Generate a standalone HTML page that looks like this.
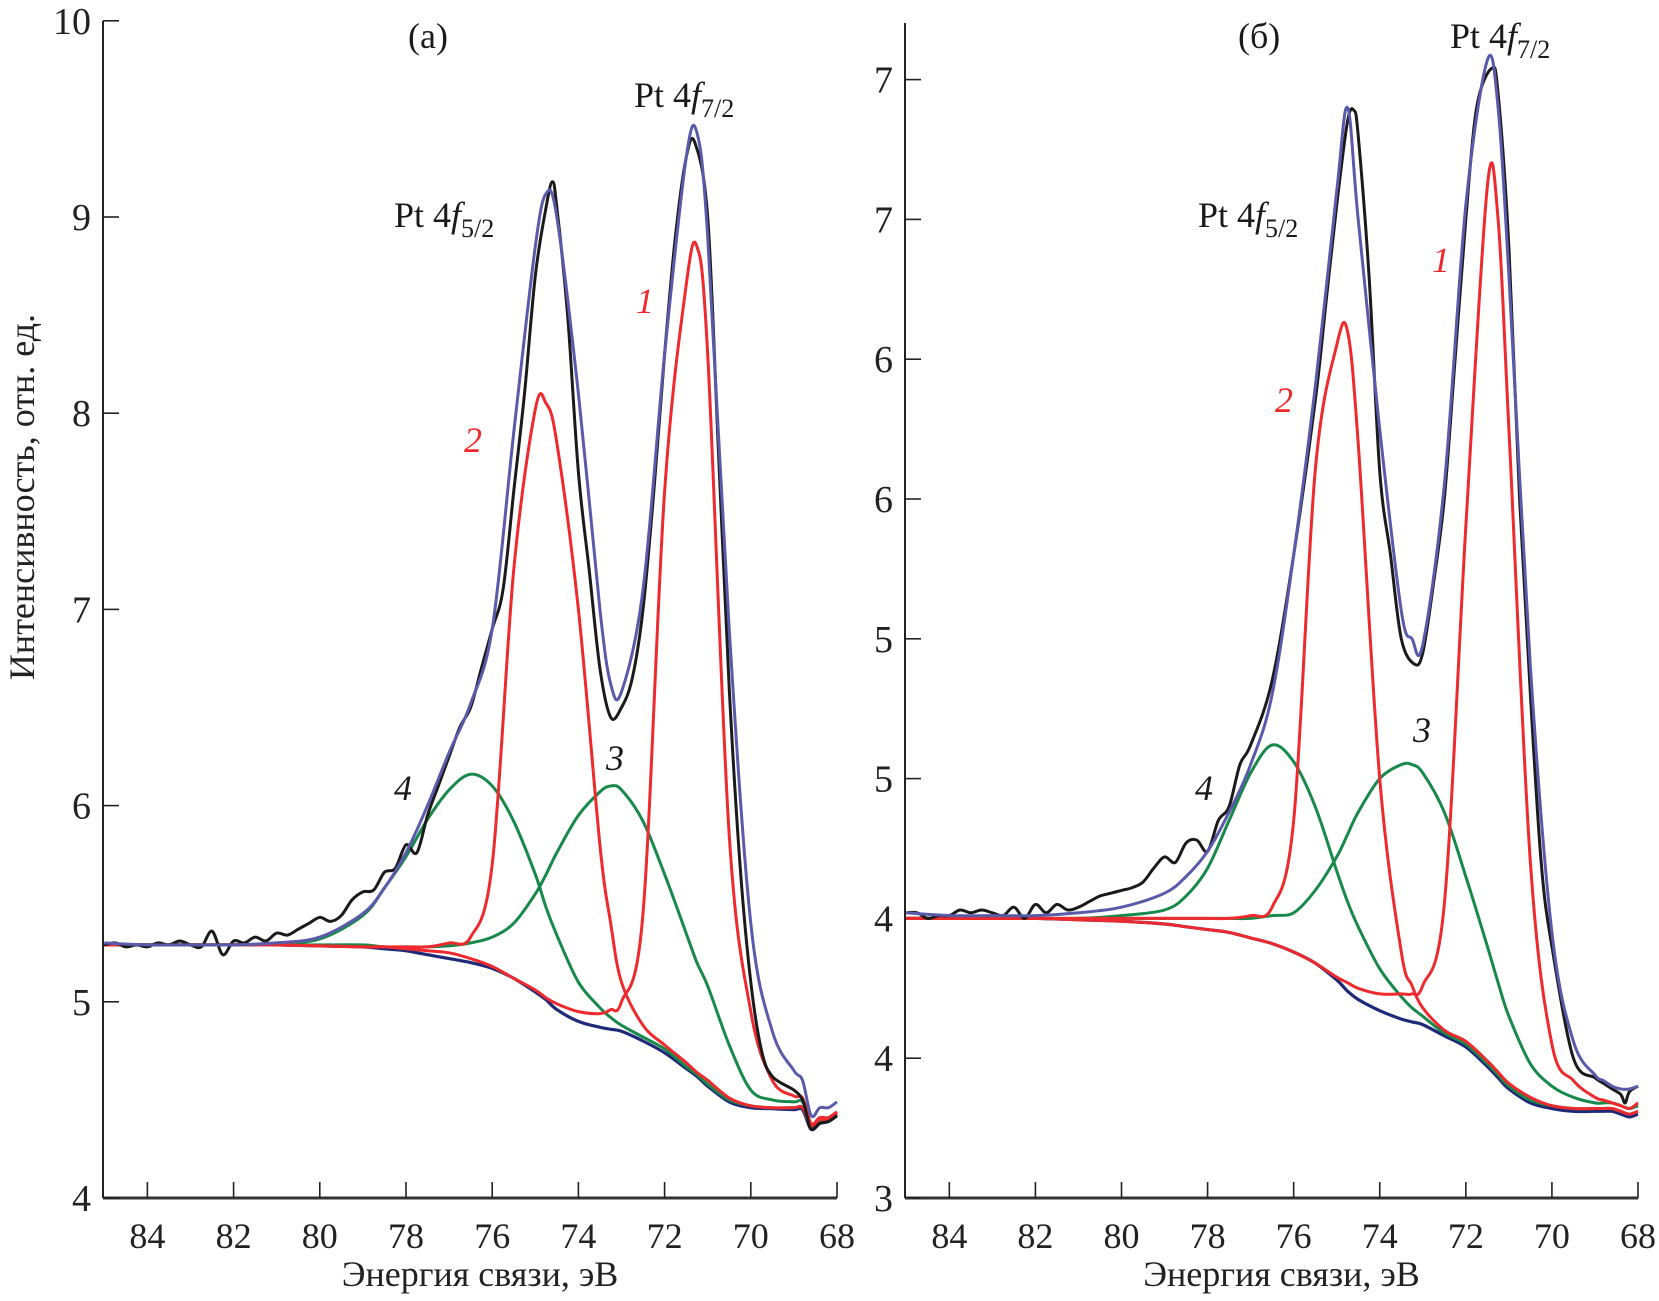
<!DOCTYPE html>
<html><head><meta charset="utf-8"><style>
html,body{margin:0;padding:0;background:#fff;}
svg{display:block;}
text{font-family:"Liberation Serif",serif;}
</style></head><body>
<svg id="chart" width="1659" height="1301" viewBox="0 0 1659 1301" xmlns="http://www.w3.org/2000/svg">
<g id="layer"></g>
</svg>
<script>
const grid = [85,84,83,82,81,80,79,78.5,78,77.5,77,76.5,76,75.5,75,74.75,74.5,74,73.5,73.25,73,72.5,72,71.5,71.25,71,70.5,70,69.5,69,68.8,68.6,68.4,68.2,68];
const xTicks = [84,82,80,78,76,74,72,70,68];
const yTicksA = [4,5,6,7,8,9,10];
const yTickLabelsA = ["4","5","6","7","8","9","10"];
const yTicksB = [3,3.5,4,4.5,5,5.5,6,6.5,7];
const yTickLabelsB = ["3","4","4","5","5","6","6","7","7"];

const navyA = [5.29,5.29,5.29,5.29,5.29,5.285,5.28,5.27,5.26,5.24,5.22,5.20,5.17,5.12,5.05,5.01,4.96,4.90,4.87,4.86,4.85,4.80,4.74,4.66,4.62,4.57,4.49,4.46,4.455,4.45,4.45,4.35,4.38,4.39,4.42];
const red2A = [5.29,5.29,5.29,5.29,5.29,5.285,5.28,5.28,5.28,5.28,5.30,5.33,5.70,7.20,8.02,8.05,7.85,7.0,5.8,5.4,5.1,4.88,4.78,4.69,4.64,4.60,4.51,4.47,4.46,4.46,4.46,4.37,4.40,4.40,4.43];
const red1A = [5.29,5.29,5.29,5.29,5.29,5.285,5.28,5.28,5.27,5.26,5.25,5.22,5.18,5.12,5.06,5.02,4.99,4.95,4.94,4.96,5.0,5.45,7.6,8.65,8.85,8.3,5.85,4.95,4.6,4.52,4.51,4.38,4.41,4.41,4.44];
const green4A = [5.29,5.29,5.29,5.29,5.30,5.32,5.44,5.58,5.74,5.93,6.08,6.16,6.10,5.92,5.65,5.48,5.34,5.10,4.97,4.92,4.88,4.82,4.76,4.67,4.63,4.58,4.50,4.47,4.46,4.46,4.46,4.36,4.39,4.39,4.42];
const green3A = [5.29,5.29,5.29,5.29,5.29,5.29,5.29,5.28,5.28,5.28,5.285,5.30,5.33,5.40,5.55,5.65,5.76,5.95,6.07,6.10,6.08,5.92,5.65,5.35,5.20,5.08,4.78,4.55,4.50,4.49,4.49,4.37,4.40,4.40,4.43];
const blueA = [5.30,5.29,5.29,5.29,5.30,5.33,5.45,5.58,5.76,6.0,6.27,6.52,6.9,7.9,8.85,9.12,9.0,8.1,7.0,6.62,6.58,7.1,8.3,9.3,9.43,8.9,6.9,5.4,4.85,4.65,4.6,4.42,4.46,4.46,4.49];
const blackXA = [85,84.75,84.5,84.25,84,83.75,83.5,83.25,83,82.75,82.5,82.25,82,81.75,81.5,81.25,81,80.75,80.5,80.25,80,79.75,79.5,79.25,79,78.75,78.5,78.25,78,77.75,77.5,77.25,77,76.75,76.5,76.25,76,75.75,75.5,75.25,75,74.75,74.6,74.5,74.25,74,73.75,73.5,73.25,73,72.75,72.5,72.25,72,71.75,71.5,71.3,71,70.75,70.5,70.25,70,69.75,69.5,69,68.8,68.7,68.6,68.4,68.2,68];
const blackA = [5.29,5.30,5.28,5.29,5.28,5.30,5.29,5.31,5.29,5.28,5.36,5.24,5.31,5.30,5.33,5.31,5.35,5.34,5.37,5.40,5.43,5.41,5.44,5.52,5.56,5.57,5.66,5.68,5.80,5.76,5.95,6.10,6.25,6.40,6.50,6.7,6.9,7.1,7.6,8.1,8.7,9.05,9.18,9.05,8.5,7.7,7.2,6.7,6.45,6.5,6.65,7.0,7.6,8.3,8.9,9.3,9.38,9.0,7.8,6.6,5.7,5.1,4.75,4.62,4.55,4.5,4.42,4.35,4.38,4.39,4.42];

const navyB = [4.0,4.0,4.0,4.0,3.995,3.99,3.98,3.97,3.96,3.95,3.93,3.91,3.88,3.84,3.78,3.74,3.71,3.67,3.64,3.63,3.62,3.58,3.54,3.47,3.43,3.39,3.34,3.32,3.31,3.31,3.31,3.31,3.30,3.29,3.30];
const red2B = [4.0,4.0,4.0,4.0,4.0,4.0,4.0,4.0,4.0,4.0,4.01,4.04,4.35,5.6,6.05,6.1,5.7,4.5,3.88,3.76,3.68,3.60,3.56,3.49,3.45,3.41,3.36,3.33,3.32,3.32,3.32,3.32,3.31,3.30,3.31];
const red1B = [4.0,4.0,4.0,4.0,3.995,3.99,3.98,3.97,3.96,3.95,3.93,3.91,3.88,3.84,3.79,3.77,3.75,3.73,3.73,3.73,3.76,4.05,5.4,6.62,6.5,5.75,4.2,3.55,3.42,3.36,3.35,3.34,3.33,3.32,3.34];
const green4B = [4.0,4.0,4.0,4.0,4.0,4.01,4.03,4.08,4.18,4.35,4.52,4.62,4.56,4.40,4.17,4.06,3.97,3.82,3.72,3.68,3.65,3.59,3.55,3.48,3.44,3.40,3.35,3.33,3.32,3.32,3.32,3.32,3.31,3.30,3.31];
const green3B = [4.0,4.0,4.0,4.0,4.0,4.0,4.0,4.0,4.0,4.0,4.0,4.01,4.02,4.1,4.22,4.30,4.38,4.50,4.55,4.55,4.52,4.38,4.15,3.9,3.77,3.65,3.48,3.40,3.36,3.34,3.34,3.34,3.33,3.32,3.33];
const blueB = [4.02,4.01,4.01,4.01,4.02,4.04,4.09,4.15,4.24,4.38,4.55,4.8,5.3,5.9,6.6,6.9,6.5,5.75,5.1,5.0,4.98,5.55,6.55,7.07,6.9,6.3,4.9,3.95,3.56,3.44,3.42,3.40,3.39,3.39,3.40];
const blackXB = [85,84.75,84.5,84.25,84,83.75,83.5,83.25,83,82.75,82.5,82.25,82,81.75,81.5,81.25,81,80.75,80.5,80.25,80,79.75,79.5,79.25,79,78.75,78.5,78.25,78,77.75,77.5,77.25,77,76.5,76,75.5,75.25,75,74.75,74.6,74.5,74.25,74,73.75,73.5,73.2,73,72.75,72.5,72.25,72,71.75,71.4,71.25,71,70.75,70.5,70.25,70,69.5,69,68.8,68.6,68.4,68.3,68.2,68];
const blackB = [4.02,4.02,4.0,4.01,4.01,4.03,4.02,4.03,4.02,4.01,4.04,4.0,4.05,4.02,4.05,4.03,4.04,4.06,4.08,4.09,4.1,4.11,4.13,4.18,4.22,4.2,4.27,4.28,4.24,4.35,4.4,4.55,4.62,4.85,5.3,5.85,6.2,6.55,6.85,6.89,6.8,6.3,5.6,5.3,5.0,4.91,4.95,5.2,5.5,6.0,6.5,6.9,7.04,6.95,6.4,5.5,4.8,4.2,3.9,3.5,3.43,3.41,3.39,3.37,3.34,3.38,3.40];

const svgNS = "http://www.w3.org/2000/svg";
const layer = document.getElementById('layer');
function mk(tag, attrs, parent){ const e=document.createElementNS(svgNS,tag); for(const k in attrs) e.setAttribute(k,attrs[k]); (parent||layer).appendChild(e); return e; }

function makePanel(p){
  const xS = e => p.x0 + (85.03 - e) * (p.x1 - p.x0) / (85.03 - 68);
  const yS = v => p.yBase - (v - p.vBase) * p.yUnit;
  const g = mk('g',{});
  
  
  const ya = mk('line',{x1:p.x0,y1:p.yTop,x2:p.x0,y2:p.yBase,stroke:'#222','stroke-width':2},g);
   
  const xa = mk('line',{x1:p.x0,y1:p.yBase,x2:p.x1,y2:p.yBase,stroke:'#333','stroke-width':3},g);
   
  xTicks.forEach(t=>{
    const X=xS(t);
    const tk=mk('line',{x1:X,y1:p.yBase,x2:X,y2:p.yBase-16,stroke:'#222','stroke-width':1.6},g);
     
    const tl=mk('text',{x:X,y:p.yBase+50,'text-anchor':'middle','font-size':36,fill:'#222'},g);
    tl.textContent=String(t);
     
  });
  p.yTicks.forEach((t,i)=>{
    const Y=yS(t);
    const tk=mk('line',{x1:p.x0,y1:Y,x2:p.x0+16,y2:Y,stroke:'#222','stroke-width':1.6},g);
     
    const tl=mk('text',{x:p.x0-12,y:Y+13,'text-anchor':'end','font-size':38,fill:'#222'},g);
    tl.textContent=p.yLabels[i];
     
  });
  const xt=mk('text',{x:(p.x0+p.x1)/2+10,y:1286,'text-anchor':'middle','font-size':36,fill:'#222'},g);
  xt.textContent='Энергия связи, эВ';
   

  function path(xsArr, vals, color, name, w){
    const pts = xsArr.map((e,i)=>[xS(e), yS(vals[i])]);
    let d='M'+pts[0][0].toFixed(1)+','+pts[0][1].toFixed(1);
    for(let i=0;i<pts.length-1;i++){
      const p0=pts[Math.max(0,i-1)],p1=pts[i],p2=pts[i+1],p3=pts[Math.min(pts.length-1,i+2)];
      const t=6;
      const c1=[p1[0]+(p2[0]-p0[0])/t,p1[1]+(p2[1]-p0[1])/t];
      const c2=[p2[0]-(p3[0]-p1[0])/t,p2[1]-(p3[1]-p1[1])/t];
      d+=' C'+c1.map(v=>v.toFixed(1)).join(',')+' '+c2.map(v=>v.toFixed(1)).join(',')+' '+p2[0].toFixed(1)+','+p2[1].toFixed(1);
    }
    const el=mk('path',{d:d,fill:'none',stroke:color,'stroke-width':w||3,'stroke-linejoin':'round'},g);
    
    
  }
  path(grid,p.navy,'#1e2a78','background-line',3.2);
  path(grid,p.green4,'#17894a','component-4-line');
  path(grid,p.green3,'#17894a','component-3-line');
  path(grid,p.red2,'#ee2a2e','component-2-line');
  path(grid,p.red1,'#ee2a2e','component-1-line');
  path(p.bx,p.black,'#1a1a1a','experimental-spectrum-line',3);
  path(grid,p.blue,'#5a5aaa','fit-envelope-line',3);

  p.texts.forEach(t=>{
    const el=mk('text',{x:t.x,y:t.y,'font-size':t.fs||36,fill:t.c||'#1a1a1a','font-style':t.it?'italic':'normal','text-anchor':t.a||'start'},g);
    if(t.sub){
      el.appendChild(document.createTextNode('Pt 4'));
      const f=mk('tspan',{'font-style':'italic'},el); f.textContent='f';
      const s=mk('tspan',{dy:10,'font-size':26},el); s.textContent=t.sub;
    } else el.textContent=t.s;
    
    
  });
}

makePanel({name:'panel-a',x0:103,x1:837,yTop:21,yBase:1198,vBase:4,yUnit:196.2,yTicks:yTicksA,yLabels:yTickLabelsA,
  navy:navyA,red1:red1A,red2:red2A,green3:green3A,green4:green4A,blue:blueA,bx:blackXA,black:blackA,
  texts:[{x:408,y:48,s:'(a)',n:'panel-a-label'},{x:634,y:107,sub:'7/2',n:'peak-label-pt-4f72'},{x:394,y:227,sub:'5/2',n:'peak-label-pt-4f52'},
   {x:636,y:313,s:'1',c:'#ee2a2e',it:1,n:'component-1-label'},{x:464,y:452,s:'2',c:'#ee2a2e',it:1,n:'component-2-label'},
   {x:606,y:770,s:'3',it:1,n:'component-3-label'},{x:394,y:800,s:'4',it:1,n:'component-4-label'}]});
makePanel({name:'panel-b',x0:905,x1:1638,yTop:23,yBase:1198,vBase:3,yUnit:279.6,yTicks:yTicksB,yLabels:yTickLabelsB,
  navy:navyB,red1:red1B,red2:red2B,green3:green3B,green4:green4B,blue:blueB,bx:blackXB,black:blackB,
  texts:[{x:1238,y:48,s:'(б)',n:'panel-b-label'},{x:1450,y:48,sub:'7/2',n:'peak-label-pt-4f72'},{x:1198,y:227,sub:'5/2',n:'peak-label-pt-4f52'},
   {x:1432,y:272,s:'1',c:'#ee2a2e',it:1,n:'component-1-label'},{x:1275,y:412,s:'2',c:'#ee2a2e',it:1,n:'component-2-label'},
   {x:1413,y:742,s:'3',it:1,n:'component-3-label'},{x:1195,y:800,s:'4',it:1,n:'component-4-label'}]});

const yt=mk('text',{x:0,y:0,'font-size':36,fill:'#222','text-anchor':'middle',transform:'translate(34,497) rotate(-90)'});
yt.textContent='Интенсивность, отн. ед.';


</script>
</body></html>
